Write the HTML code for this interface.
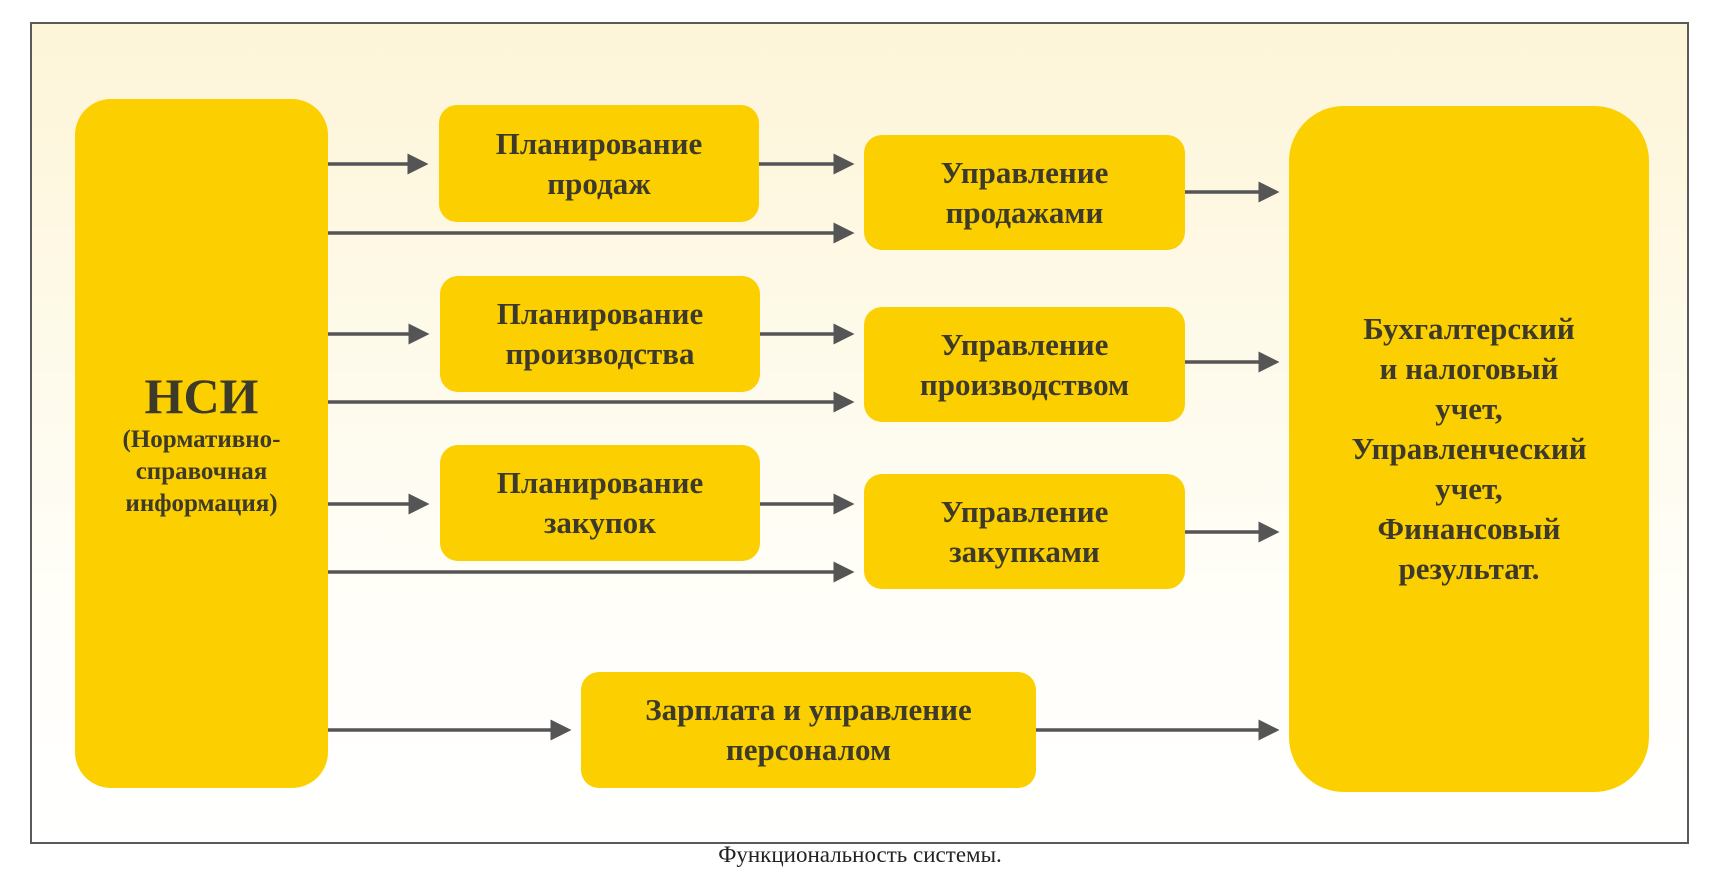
<!DOCTYPE html>
<html><head><meta charset="utf-8"><style>
body{margin:0;width:1720px;height:879px;background:#fff;position:relative;overflow:hidden;font-family:"Liberation Serif",serif}
.frame{position:absolute;left:30px;top:22px;width:1655px;height:818px;border:2px solid #5a5a5a;background:linear-gradient(#fdf5d8,#fffef8 70%,#fff)}
.b{position:absolute;background:#fcd000;border-radius:18px;display:flex;align-items:center;justify-content:center;text-align:center;color:#3d3a2a;font-weight:bold;font-size:31px;line-height:40px}
.cap{position:absolute;top:842px;left:0;width:1720px;text-align:center;font-size:23px;color:#222}
svg{position:absolute;left:0;top:0}
</style></head><body>
<div class="frame"></div>
<div class="b" style="left:75px;top:99px;width:253px;height:689px;border-radius:36px;flex-direction:column"><div style="font-size:50px;line-height:56px">НСИ</div><div style="font-size:25px;line-height:32px">(Нормативно-<br>справочная<br>информация)</div></div>
<div class="b" style="left:439px;top:105px;width:320px;height:117px">Планирование<br>продаж</div>
<div class="b" style="left:864px;top:135px;width:321px;height:115px">Управление<br>продажами</div>
<div class="b" style="left:440px;top:276px;width:320px;height:116px">Планирование<br>производства</div>
<div class="b" style="left:864px;top:307px;width:321px;height:115px">Управление<br>производством</div>
<div class="b" style="left:440px;top:445px;width:320px;height:116px">Планирование<br>закупок</div>
<div class="b" style="left:864px;top:474px;width:321px;height:115px">Управление<br>закупками</div>
<div class="b" style="left:581px;top:672px;width:455px;height:116px">Зарплата и управление<br>персоналом</div>
<div class="b" style="left:1289px;top:106px;width:360px;height:686px;border-radius:55px;line-height:40px">Бухгалтерский<br>и налоговый<br>учет,<br>Управленческий<br>учет,<br>Финансовый<br>результат.</div>
<svg width="1720" height="879"><defs><marker id="a" markerWidth="6" markerHeight="6" refX="5" refY="3" orient="auto" markerUnits="strokeWidth"><path d="M0,0L6,3L0,6z" fill="#555"/></marker></defs>
<g stroke="#555" stroke-width="3.5" marker-end="url(#a)">
<line x1="328" y1="164" x2="425" y2="164"/><line x1="759" y1="164" x2="851" y2="164"/><line x1="328" y1="233" x2="851" y2="233"/>
<line x1="328" y1="334" x2="426" y2="334"/><line x1="760" y1="334" x2="851" y2="334"/><line x1="328" y1="402" x2="851" y2="402"/>
<line x1="328" y1="504" x2="426" y2="504"/><line x1="760" y1="504" x2="851" y2="504"/><line x1="328" y1="572" x2="851" y2="572"/>
<line x1="328" y1="730" x2="568" y2="730"/><line x1="1036" y1="730" x2="1276" y2="730"/>
<line x1="1185" y1="192" x2="1276" y2="192"/><line x1="1185" y1="362" x2="1276" y2="362"/><line x1="1185" y1="532" x2="1276" y2="532"/>
</g></svg>
<div class="cap">Функциональность системы.</div>
</body></html>
